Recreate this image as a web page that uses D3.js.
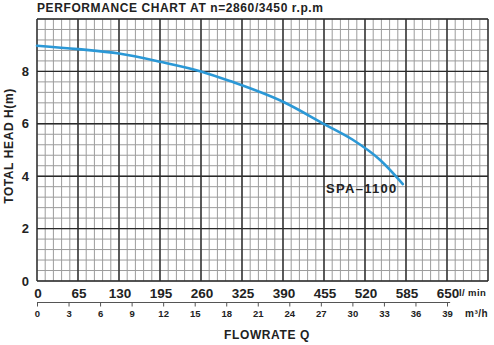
<!DOCTYPE html>
<html>
<head>
<meta charset="utf-8">
<script src="https://cdn.jsdelivr.net/npm/d3@7"></script>
<style>
  html, body { margin: 0; padding: 0; background: #fff; }
  svg { display: block; font-family: "Liberation Sans", Arial, Helvetica, sans-serif; }
</style>
</head>
<body>
<svg id="chart" width="494" height="345"></svg>
<script>
// Pump performance curve (flow in l/min, head in m)
const flowLmin = [0, 65, 130, 195, 260, 306, 390, 456, 500, 544, 580];
const headM    = [8.98, 8.85, 8.68, 8.37, 8.0, 7.63, 6.84, 5.98, 5.4, 4.62, 3.7];

const lminTicks = [0, 65, 130, 195, 260, 325, 390, 455, 520, 585, 650];
const m3hTicks  = [0, 3, 6, 9, 12, 15, 18, 21, 24, 27, 30, 33, 36, 39];
const headTicks = [0, 2, 4, 6, 8];
const modelName = "SPA\u20131100";

const svg = d3.select("#chart");

const plotL = 37, plotR = 488, plotT = 19, plotB = 281;
const x = d3.scaleLinear().domain([0, 715]).range([plotL, plotR]);
const y = d3.scaleLinear().domain([0, 10]).range([plotB, plotT]);

// minor grid: every 13 l/min and every 0.4 m
const g = svg.append("g");
g.selectAll("line.vmin").data(d3.range(0, 715.1, 13)).join("line")
  .attr("x1", d => x(d)).attr("x2", d => x(d)).attr("y1", plotT).attr("y2", plotB)
  .attr("stroke", "#9c9c9c").attr("stroke-width", 1);
g.selectAll("line.hmin").data(d3.range(0, 10.01, 0.4)).join("line")
  .attr("y1", d => y(d)).attr("y2", d => y(d)).attr("x1", plotL).attr("x2", plotR)
  .attr("stroke", "#9c9c9c").attr("stroke-width", 1);

// major grid: every 65 l/min and every 2 m
g.selectAll("line.vmaj").data(d3.range(0, 715.1, 65)).join("line")
  .attr("x1", d => x(d)).attr("x2", d => x(d)).attr("y1", plotT).attr("y2", plotB)
  .attr("stroke", "#2a2a2a").attr("stroke-width", 1.4);
g.selectAll("line.hmaj").data(d3.range(0, 10.01, 2)).join("line")
  .attr("y1", d => y(d)).attr("y2", d => y(d)).attr("x1", plotL).attr("x2", plotR)
  .attr("stroke", "#2a2a2a").attr("stroke-width", 1.4);

// head-flow curve
const line = d3.line().x((d, i) => x(flowLmin[i])).y(d => y(d)).curve(d3.curveMonotoneX);
svg.append("path").datum(headM)
  .attr("d", line).attr("fill", "none")
  .attr("stroke", "#2b98d6").attr("stroke-width", 2.6).attr("stroke-linecap", "round");

// model label
svg.append("text").attr("x", 326).attr("y", 193)
  .attr("font-size", 13).attr("font-weight", "bold").attr("letter-spacing", 1.3)
  .attr("fill", "#222").text(modelName);

// y-axis labels
svg.selectAll("text.yl").data(headTicks).join("text")
  .attr("x", 29).attr("y", d => y(d) + 4.5).attr("text-anchor", "end")
  .attr("font-size", 13).attr("font-weight", "bold").attr("fill", "#222")
  .text(d => d);

// l/min labels
svg.selectAll("text.xl").data(lminTicks).join("text")
  .attr("x", d => x(d) + 1).attr("y", 297.5).attr("text-anchor", "middle")
  .attr("font-size", 13.5).attr("font-weight", "bold").attr("fill", "#222")
  .text(d => d);
svg.append("text").attr("x", 459).attr("y", 296)
  .attr("font-size", 9.5).attr("font-weight", "bold").attr("fill", "#222")
  .attr("letter-spacing", 0.4).text("l/ min");

// m³/h secondary axis (1 m³/h = 50/3 l/min)
const xm = d3.scaleLinear().domain([0, 715 * 0.06]).range([plotL, plotR]);
const ax = svg.append("g").attr("transform", "translate(0,302.5)")
  .call(d3.axisBottom(xm).tickValues(m3hTicks).tickSize(4).tickPadding(4).tickSizeOuter(0));
ax.select(".domain").attr("d", `M${plotL},0H${xm(39.3)}`).attr("stroke", "#555");
ax.selectAll(".tick line").attr("stroke", "#555");
ax.selectAll(".tick text").attr("font-size", 9.5).attr("font-weight", "bold")
  .attr("fill", "#222").attr("font-family", "Liberation Sans, Arial, sans-serif");
svg.append("text").attr("x", 465).attr("y", 317)
  .attr("font-size", 10).attr("font-weight", "bold").attr("fill", "#222")
  .attr("letter-spacing", 0.5).text("m\u00b3/h");

// titles
svg.append("text").attr("x", 37).attr("y", 12)
  .attr("font-size", 12).attr("font-weight", "bold").attr("fill", "#222")
  .attr("letter-spacing", 0.6).text("PERFORMANCE CHART AT n=2860/3450 r.p.m");
svg.append("text").attr("x", 267).attr("y", 339).attr("text-anchor", "middle")
  .attr("font-size", 12).attr("font-weight", "bold").attr("fill", "#222")
  .attr("letter-spacing", 0.6).text("FLOWRATE Q");
svg.append("text").attr("transform", "translate(13,146) rotate(-90)")
  .attr("text-anchor", "middle")
  .attr("font-size", 12).attr("font-weight", "bold").attr("fill", "#222")
  .attr("letter-spacing", 0.6).text("TOTAL HEAD H(m)");
</script>
</body>
</html>
